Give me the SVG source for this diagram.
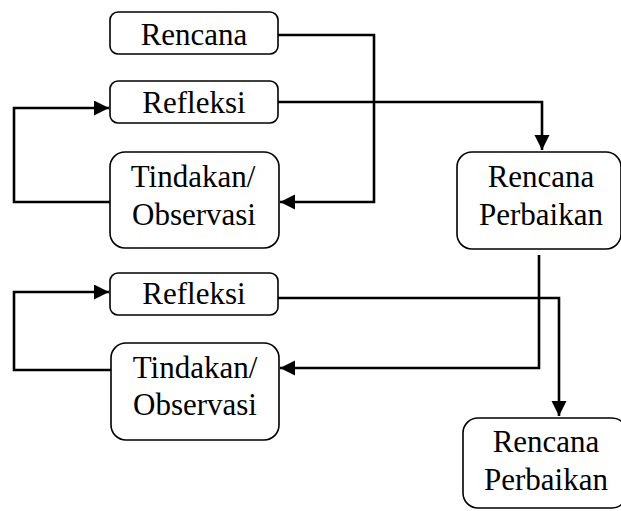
<svg xmlns="http://www.w3.org/2000/svg" width="621" height="511" viewBox="0 0 621 511">
<style>
.box{fill:#fff;stroke:#000;stroke-width:1.6}
text{font-family:'Liberation Serif','Times New Roman',Times,serif;font-size:31px;fill:#000;text-anchor:middle}
.c{fill:none;stroke:#000;stroke-width:2.6;marker-end:url(#ah)}
</style>
<defs>
<marker id="ah" markerUnits="userSpaceOnUse" markerWidth="16" markerHeight="16" refX="15" refY="7.5" orient="auto">
<path d="M0,0 L15,7.5 L0,15 z" fill="#000"/>
</marker>
</defs>
<rect width="621" height="511" fill="#fff"/>
<g id="connectors">
<path class="c" d="M278,35 H374 V202 H280"/>
<path class="c" d="M278,102 H542 V150"/>
<path class="c" d="M110,202 H14 V108 H109"/>
<path class="c" d="M539,255 V368 H280"/>
<path class="c" d="M278,298 H559 V416"/>
<path class="c" d="M111,370 H14 V292 H109"/>
</g>
<g id="rencana">
<rect class="box" x="110" y="12" width="168" height="42" rx="8"/>
<text x="194" y="45">Rencana</text>
</g>
<g id="refleksi1">
<rect class="box" x="110" y="81" width="168" height="42" rx="8"/>
<text x="194" y="113">Refleksi</text>
</g>
<g id="tindakan1">
<rect class="box" x="110" y="152" width="169" height="96" rx="15"/>
<text x="193" y="187">Tindakan/</text>
<text x="194" y="225">Observasi</text>
</g>
<g id="perbaikan1">
<rect class="box" x="457" y="152" width="164" height="97" rx="15"/>
<text x="541" y="187">Rencana</text>
<text x="541" y="225">Perbaikan</text>
</g>
<g id="refleksi2">
<rect class="box" x="110" y="273" width="168" height="42" rx="8"/>
<text x="194" y="304">Refleksi</text>
</g>
<g id="tindakan2">
<rect class="box" x="111" y="343" width="168" height="97" rx="15"/>
<text x="195" y="378">Tindakan/</text>
<text x="195" y="415">Observasi</text>
</g>
<g id="perbaikan2">
<rect class="box" x="463" y="418" width="164" height="90" rx="15"/>
<text x="546" y="452">Rencana</text>
<text x="546" y="490">Perbaikan</text>
</g>
</svg>
